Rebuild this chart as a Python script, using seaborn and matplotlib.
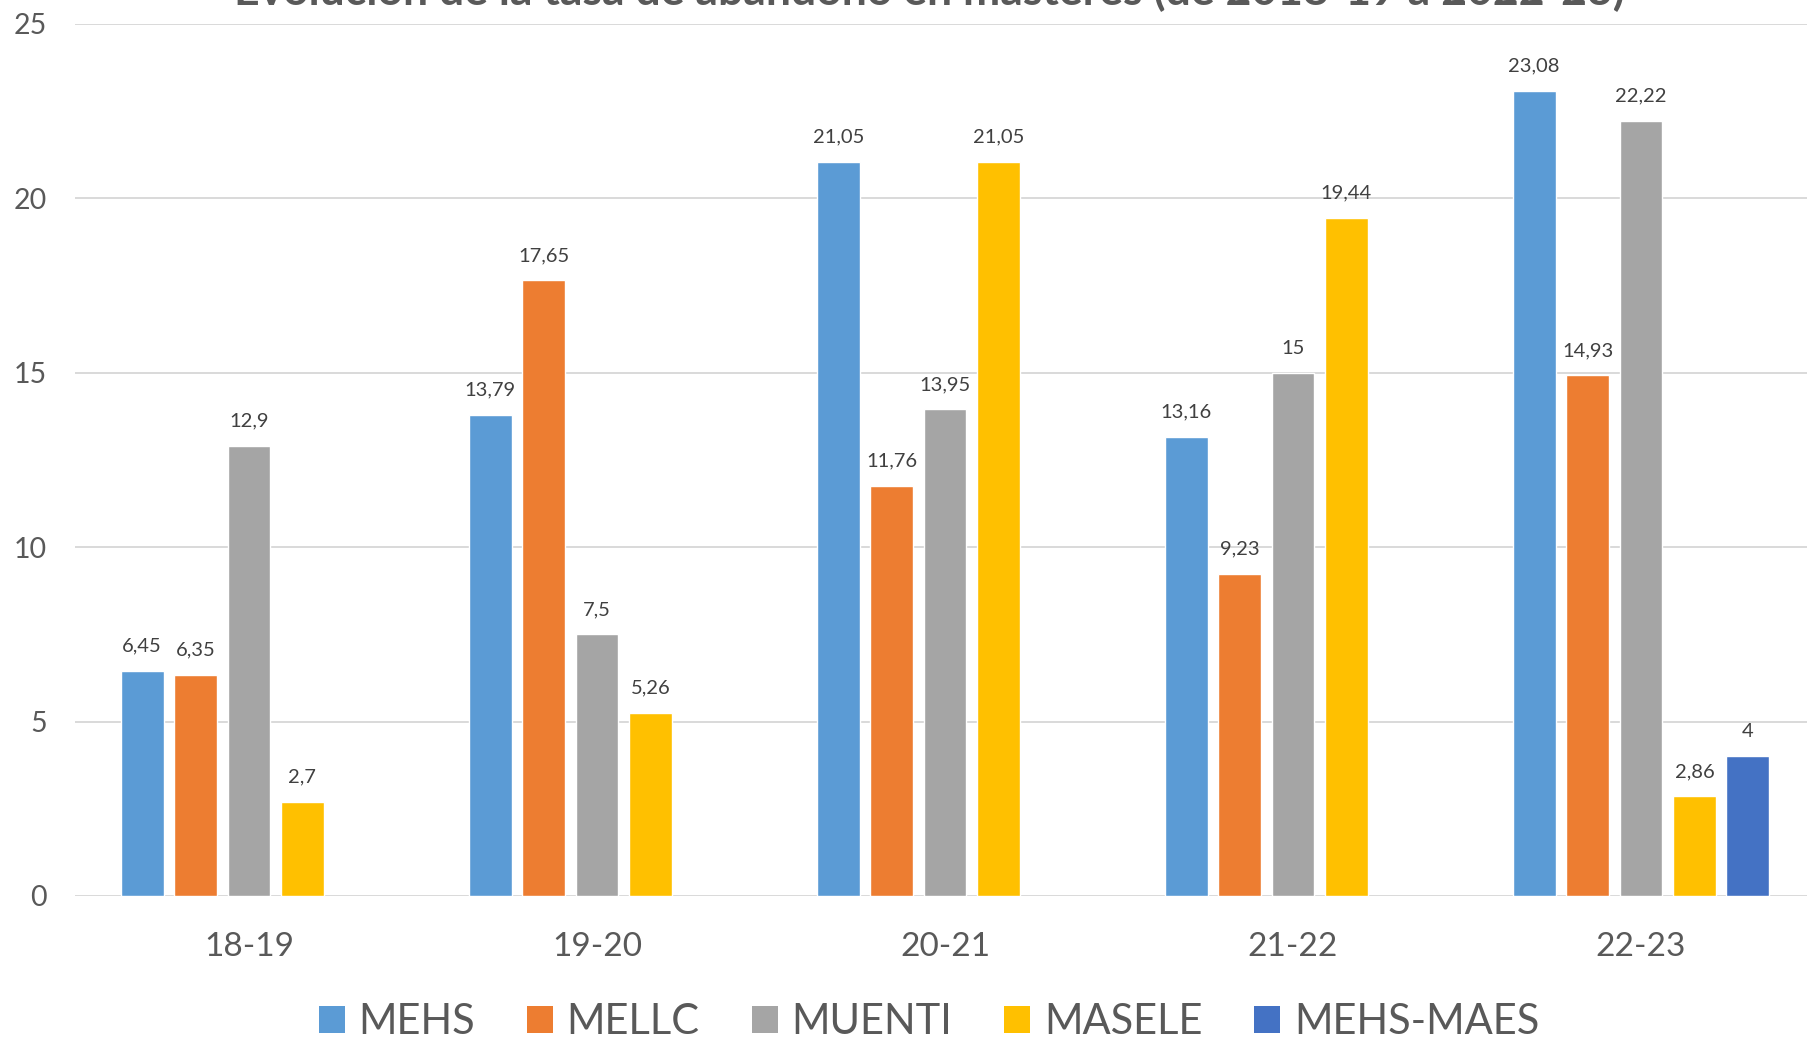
import numpy as np
import pandas as pd
import matplotlib
matplotlib.use("Agg")
import matplotlib.pyplot as plt
import seaborn as sns
from matplotlib.patches import Patch

# ---- data ----
categories = ["18-19", "19-20", "20-21", "21-22", "22-23"]
series_names = ["MEHS", "MELLC", "MUENTI", "MASELE", "MEHS-MAES"]
mehs = [6.45, 13.79, 21.05, 13.16, 23.08]
mellc = [6.35, 17.65, 11.76, 9.23, 14.93]
muenti = [12.9, 7.5, 13.95, 15, 22.22]
masele = [2.7, 5.26, 21.05, 19.44, 2.86]
mehs_maes = [np.nan, np.nan, np.nan, np.nan, 4]
colors = ["#5B9BD5", "#ED7D31", "#A5A5A5", "#FFC000", "#4472C4"]
title = "Evolución de la tasa de abandono en másteres (de 2018-19 a 2022-23)"
yticks = [0, 5, 10, 15, 20, 25]

rows = []
for name, vals in zip(series_names, [mehs, mellc, muenti, masele, mehs_maes]):
    for c, v in zip(categories, vals):
        rows.append({"curso": c, "serie": name, "valor": v})
df = pd.DataFrame(rows).dropna()

sns.set_theme(style="white")
plt.rcParams["font.family"] = ["Lato", "DejaVu Sans"]

W, H = 1807, 1038
fig = plt.figure(figsize=(W / 100, H / 100), dpi=100)
ax = fig.add_axes([75 / W, (H - 896) / H, (1815 - 75) / W, (896 - 24) / H])

sns.barplot(data=df, x="curso", y="valor", hue="serie", order=categories,
            hue_order=series_names, palette=colors, width=0.767, gap=0.2,
            dodge=True, saturation=1, legend=False, ax=ax, zorder=3)

for cont in ax.containers:
    ax.bar_label(cont, fmt=lambda v: f"{v:g}".replace(".", ","),
                 padding=11.7, fontsize=14.5, color="#404040")

ax.set_xlim(-0.5, 4.5)
ax.set_ylim(0, 25)
ax.set_yticks(yticks)
ax.set_xlabel("")
ax.set_ylabel("")
for s in ax.spines.values():
    s.set_visible(False)
ax.grid(axis="y", color="#D9D9D9", linewidth=1.4, zorder=0)
ax.grid(axis="x", visible=False)
ax.set_axisbelow(True)
ax.tick_params(axis="y", length=0, pad=20, labelsize=20.5, labelcolor="#595959")
ax.tick_params(axis="x", length=0, pad=26, labelsize=24, labelcolor="#595959")

fig.text(929 / W, 1 - 5 / H, title, ha="center", va="baseline",
         fontsize=32, fontweight="bold", color="#595959")

handles = [Patch(facecolor=c, edgecolor="none") for c in colors]
fig.legend(handles, series_names, loc="center", ncol=5, frameon=False,
           bbox_to_anchor=(929 / W, 1 - 1022 / H), fontsize=30,
           handlelength=0.62, handleheight=0.62, handletextpad=0.33,
           columnspacing=1.25, labelcolor="#595959", borderaxespad=0, borderpad=0)

fig.savefig("out.png", dpi=100)
